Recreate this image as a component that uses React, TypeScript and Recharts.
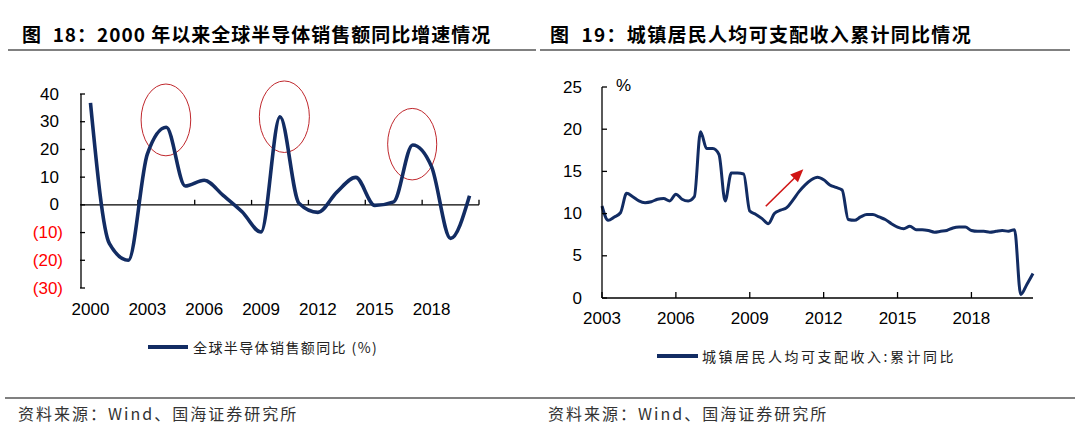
import React from 'react';
import { LineChart, Line, XAxis, YAxis, ReferenceLine, ReferenceArea } from 'recharts';

// ---------- Left chart data: global semiconductor sales YoY (%) ----------
const semiYears = [2000, 2001, 2002, 2003, 2004, 2005, 2006, 2007, 2008, 2009, 2010, 2011, 2012, 2013, 2014, 2015, 2016, 2017, 2018, 2019, 2020];
const semiYoY = [36.8, -14, -20, 18.3, 28.0, 6.8, 8.9, 3.4, -2.5, -9.8, 31.8, 0.6, -2.7, 4.6, 9.9, -0.2, 1.1, 21.6, 13.7, -12.1, 3.3];
const semiXTicks = [2000, 2003, 2006, 2009, 2012, 2015, 2018];
const semiYTicks = [-30, -20, -10, 0, 10, 20, 30, 40];
const semiZeroTicks = [2002.5, 2005.5, 2008.5, 2011.5, 2014.5, 2017.5, 2020.5];
// highlight ellipses (data coords)
const ellipseX1 = [2002.67, 2008.91, 2015.68];
const ellipseX2 = [2005.29, 2011.55, 2018.27];
const ellipseY1 = [17.7, 18.9, 9.0];
const ellipseY2 = [43.6, 44.7, 34.8];

// ---------- Right chart data: urban disposable income per capita, cumulative YoY (%) ----------
const incomeQuarters = [
  '2003Q1', '2003Q2', '2003Q3', '2003Q4', '2004Q1', '2004Q2', '2004Q3', '2004Q4',
  '2005Q1', '2005Q2', '2005Q3', '2005Q4', '2006Q1', '2006Q2', '2006Q3', '2006Q4',
  '2007Q1', '2007Q2', '2007Q3', '2007Q4', '2008Q1', '2008Q2', '2008Q3', '2008Q4',
  '2009Q1', '2009Q2', '2009Q3', '2009Q4', '2010Q1', '2010Q2', '2010Q3', '2010Q4',
  '2011Q1', '2011Q2', '2011Q3', '2011Q4', '2012Q1', '2012Q2', '2012Q3', '2012Q4',
  '2013Q1', '2013Q2', '2013Q3', '2013Q4', '2014Q1', '2014Q2', '2014Q3', '2014Q4',
  '2015Q1', '2015Q2', '2015Q3', '2015Q4', '2016Q1', '2016Q2', '2016Q3', '2016Q4',
  '2017Q1', '2017Q2', '2017Q3', '2017Q4', '2018Q1', '2018Q2', '2018Q3', '2018Q4',
  '2019Q1', '2019Q2', '2019Q3', '2019Q4', '2020Q1', '2020Q2', '2020Q3',
];
const incomeYoY = [
  10.9, 9.2, 9.6, 10.1,
  12.4, 12.0, 11.5, 11.3,
  11.4, 11.7, 11.8, 11.5,
  12.3, 11.7, 11.5, 12.0,
  19.7, 17.7, 17.7, 17.0,
  11.5, 14.8, 14.8, 14.7,
  10.3, 9.9, 9.4, 8.8,
  10.0, 10.4, 10.7, 11.6,
  12.6, 13.4, 14.0, 14.3,
  14.0, 13.4, 13.1, 12.8,
  9.3, 9.2, 9.6, 9.9,
  9.9, 9.6, 9.3, 8.8,
  8.4, 8.2, 8.5, 8.1,
  8.1, 8.0, 7.8, 7.9,
  8.0, 8.3, 8.4, 8.4,
  8.0, 7.9, 7.9, 7.8,
  7.9, 8.0, 7.9, 8.1,
  0.4, 1.6, 2.9,
];
const incomeXTickIdx = [0, 12, 24, 36, 48, 60];
const incomeXTickLabels = ['2003', '2006', '2009', '2012', '2015', '2018'];
const incomeYTicks = [0, 5, 10, 15, 20, 25];
// red arrow (data coords: quarter index, value)
const arrowFrom = { q: 26.6, v: 10.87 };
const arrowTo = { q: 32.7, v: 15.25 };

const semiData = semiYears.map((y, i) => ({ year: y, v: semiYoY[i] }));
const incomeData = incomeQuarters.map((label, i) => ({ q: i, label, v: incomeYoY[i] }));

const NAVY = '#122C63';
const LATIN = '"Liberation Sans", Arial, sans-serif';
const CJK = '"Noto Sans CJK SC", "Liberation Sans", sans-serif';

const LeftYTick = (props: any) => {
  const { x, y, payload } = props;
  const v = payload.value as number;
  const neg = v < 0;
  const label = neg ? `(${Math.abs(v)})` : String(v);
  return (
    <g>
      <line x1={x - 1} x2={x + 4} y1={y} y2={y} stroke="#000" strokeWidth={1.3} />
      <text x={neg ? x - 18 : x - 22} y={y} textAnchor="end" dominantBaseline="central"
        fill={neg ? '#FF0000' : '#000'} fontSize={17} fontFamily={LATIN}>{label}</text>
    </g>
  );
};

const LeftXTick = (props: any) => {
  const { x, y, payload } = props;
  return (
    <text x={x} y={y + 27} textAnchor="middle" fill="#000" fontSize={17} fontFamily={LATIN}>{payload.value}</text>
  );
};

const RightYTick = (props: any) => {
  const { x, y, payload } = props;
  return (
    <g>
      <line x1={x} x2={x + 5} y1={y} y2={y} stroke="#000" strokeWidth={1.3} />
      <text x={x - 20} y={y} textAnchor="end" dominantBaseline="central" fill="#000" fontSize={17} fontFamily={LATIN}>{payload.value}</text>
    </g>
  );
};

const RightXTick = (props: any) => {
  const { x, y, payload } = props;
  const i = incomeXTickIdx.indexOf(payload.value);
  return (
    <g>
      <line x1={x} x2={x} y1={y} y2={y - 6} stroke="#000" strokeWidth={1.3} />
      <text x={x} y={y + 26} textAnchor="middle" fill="#000" fontSize={17} fontFamily={LATIN}>{i >= 0 ? incomeXTickLabels[i] : ''}</text>
    </g>
  );
};

const EllipseShape = (props: any) => {
  const { x, y, width, height } = props;
  return (
    <ellipse cx={x + width / 2} cy={y + height / 2} rx={Math.abs(width) / 2} ry={Math.abs(height) / 2}
      fill="none" stroke="#C0282D" strokeWidth={1} />
  );
};

const ArrowShape = (props: any) => {
  const { x1, y1, x2, y2 } = props;
  const dx = x2 - x1;
  const dy = y2 - y1;
  const len = Math.sqrt(dx * dx + dy * dy) || 1;
  const ux = dx / len;
  const uy = dy / len;
  const head = 13;
  const half = 5.5;
  const bx = x2 - ux * head;
  const by = y2 - uy * head;
  const px = -uy;
  const py = ux;
  const pts = `${x2},${y2} ${bx + px * half},${by + py * half} ${bx - px * half},${by - py * half}`;
  return (
    <g>
      <line x1={x1} y1={y1} x2={bx + ux * 1} y2={by + uy * 1} stroke="#D01515" strokeWidth={1.6} />
      <polygon points={pts} fill="#D01515" />
    </g>
  );
};

const ZeroTick = (props: any) => {
  const { x1, y1, x2, y2 } = props;
  return <line x1={x1} y1={y1} x2={x2} y2={y2} stroke="#000" strokeWidth={1.3} />;
};

const abs = (left: number, top: number): React.CSSProperties => ({ position: 'absolute', left, top });

export default function App() {
  return (
    <div style={{ position: 'absolute', left: 0, top: 0, width: 1080, height: 440, background: '#fff', overflow: 'hidden' }}>
      {/* Left chart */}
      <div style={abs(0, 0)}>
        <LineChart width={540} height={400} data={semiData} margin={{ top: 94, right: 61, bottom: 82, left: 21 }}>
          <XAxis dataKey="year" type="number" domain={[1999.5, 2020.5]} ticks={semiXTicks}
            axisLine={false} tickLine={false} tickSize={0} tickMargin={0} height={30} tick={<LeftXTick />} interval={0} />
          <YAxis type="number" domain={[-30, 40]} ticks={semiYTicks} width={60}
            axisLine={{ stroke: '#000', strokeWidth: 1.3 }} tickLine={false} tickSize={0} tickMargin={0} tick={<LeftYTick />} interval={0} />
          <ReferenceLine y={0} stroke="#000" strokeWidth={1.3} />
          {semiZeroTicks.map((t) => (
            <ReferenceLine key={t} segment={[{ x: t, y: 0 }, { x: t, y: 1.8 }]} shape={ZeroTick} />
          ))}
          <Line type="monotone" dataKey="v" stroke={NAVY} strokeWidth={3.6} dot={false} activeDot={false} isAnimationActive={false} />
          {ellipseX1.map((x1, i) => (
            <ReferenceArea key={i} x1={x1} x2={ellipseX2[i]} y1={ellipseY1[i]} y2={ellipseY2[i]} ifOverflow="visible" shape={EllipseShape} />
          ))}
        </LineChart>
      </div>

      {/* Right chart */}
      <div style={abs(540, 0)}>
        <LineChart width={540} height={400} data={incomeData} margin={{ top: 87, right: 47, bottom: 72, left: 2 }}>
          <XAxis dataKey="q" type="number" domain={[0, 70]} ticks={incomeXTickIdx}
            axisLine={{ stroke: '#000', strokeWidth: 1.3 }} tickLine={false} tickSize={0} tickMargin={0} height={30} tick={<RightXTick />} interval={0} />
          <YAxis type="number" domain={[0, 25]} ticks={incomeYTicks} width={60}
            axisLine={{ stroke: '#000', strokeWidth: 1.3 }} tickLine={false} tickSize={0} tickMargin={0} tick={<RightYTick />} interval={0} />
          <Line type="monotone" dataKey="v" stroke={NAVY} strokeWidth={3} dot={false} activeDot={false} isAnimationActive={false} />
          <ReferenceLine segment={[{ x: arrowFrom.q, y: arrowFrom.v }, { x: arrowTo.q, y: arrowTo.v }]} shape={ArrowShape} />
        </LineChart>
      </div>

      {/* % unit */}
      <div style={{ ...abs(616, 76), fontSize: 17, fontFamily: LATIN, color: '#000' }}>%</div>

      {/* Titles */}
      <div style={{ ...abs(22, 20), fontSize: 19, fontWeight: 'bold', fontFamily: CJK, letterSpacing: 1, whiteSpace: 'nowrap', color: '#000' }}>
        图&nbsp;&nbsp;18：2000 年以来全球半导体销售额同比增速情况
      </div>
      <div style={{ ...abs(550, 20), fontSize: 19, fontWeight: 'bold', fontFamily: CJK, letterSpacing: 1.3, whiteSpace: 'nowrap', color: '#000' }}>
        图&nbsp;&nbsp;19：城镇居民人均可支配收入累计同比情况
      </div>
      <div style={{ ...abs(8, 49), width: 528, height: 2, background: '#808080' }} />
      <div style={{ ...abs(540, 49), width: 530, height: 2, background: '#808080' }} />

      {/* Legends */}
      <div style={{ ...abs(148, 345), width: 40, height: 3.5, background: NAVY }} />
      <div style={{ ...abs(193, 337), fontSize: 14, fontFamily: CJK, letterSpacing: 1.4, whiteSpace: 'nowrap', color: '#222', lineHeight: '20px' }}>
        全球半导体销售额同比 (%)
      </div>
      <div style={{ ...abs(657, 354), width: 41, height: 3.5, background: NAVY }} />
      <div style={{ ...abs(702, 346), fontSize: 14, fontFamily: CJK, letterSpacing: 2.5, whiteSpace: 'nowrap', color: '#222', lineHeight: '20px' }}>
        城镇居民人均可支配收入:累计同比
      </div>

      {/* Footer */}
      <div style={{ ...abs(5, 397), width: 1070, height: 2, background: '#808080' }} />
      <div style={{ ...abs(18, 402), fontSize: 16, fontFamily: CJK, letterSpacing: 2, whiteSpace: 'nowrap', color: '#333', lineHeight: '22px' }}>
        资料来源：Wind、国海证券研究所
      </div>
      <div style={{ ...abs(548, 402), fontSize: 16, fontFamily: CJK, letterSpacing: 2, whiteSpace: 'nowrap', color: '#333', lineHeight: '22px' }}>
        资料来源：Wind、国海证券研究所
      </div>
    </div>
  );
}
